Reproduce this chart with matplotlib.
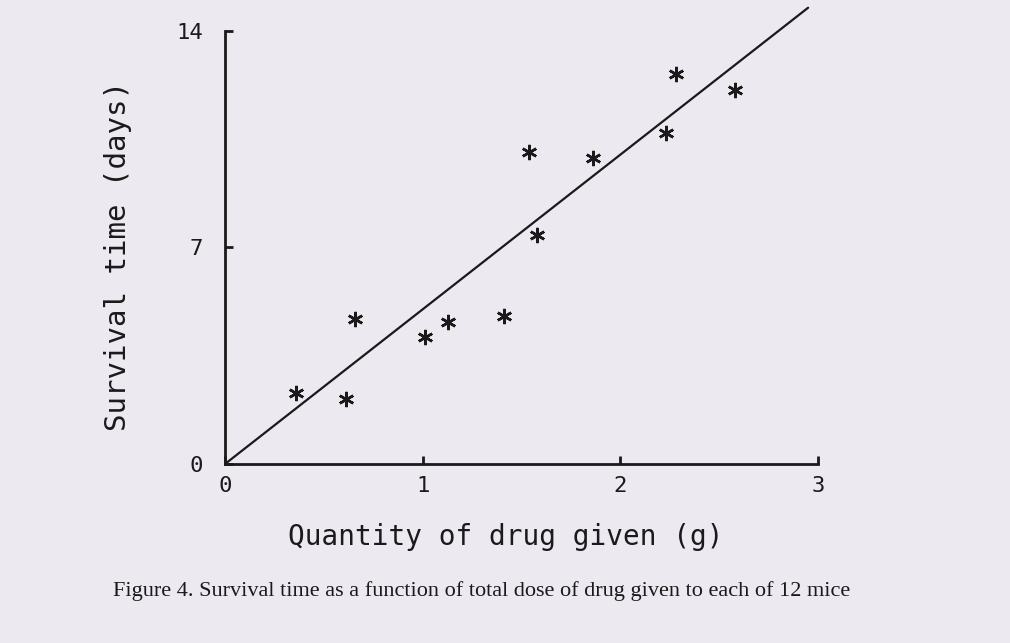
import matplotlib.pyplot as plt

# data
dose = [0.36, 0.61, 0.66, 1.01, 1.13, 1.41, 1.54, 1.58, 1.86, 2.23, 2.28, 2.58]
survival = [2.3, 2.1, 4.7, 4.1, 4.6, 4.8, 10.1, 7.4, 9.9, 10.7, 12.6, 12.1]

fit_x = [0, 2.95]
fit_y = [0, 14.75]

x_ticks = [0, 1, 2, 3]
y_ticks = [0, 7, 14]

paper = '#ece9f1'
ink = '#1a1a1a'
mono = 'DejaVu Sans Mono'

fig = plt.figure(figsize=(10.1, 6.43), dpi=100, facecolor=paper)
ax = fig.add_axes([225/1010, 1-464/643, 593/1010, 464/643])
ax.set_facecolor(paper)

ax.plot(fit_x, fit_y, color=ink, lw=1.6, solid_capstyle='round')
ax.plot(dose, survival, ls='none', marker=(6, 2, 0), ms=11, mew=1.8, color=ink)

ax.set_xlim(0, 3)
ax.set_ylim(0, 15.0)
for s in ['top', 'right']:
    ax.spines[s].set_visible(False)
ax.spines['left'].set_bounds(0, 14)
ax.spines['bottom'].set_bounds(0, 3)
for s in ['left', 'bottom']:
    ax.spines[s].set_linewidth(2)
    ax.spines[s].set_color(ink)

ax.set_xticks(x_ticks)
ax.set_yticks(y_ticks)
ax.tick_params(axis='both', direction='in', length=6, width=2, color=ink, labelcolor=ink, labelsize=16)
ax.tick_params(axis='y', pad=16)
ax.tick_params(axis='x', pad=9)
for lab in ax.get_xticklabels() + ax.get_yticklabels():
    lab.set_fontfamily(mono)

fig.text(506/1010, 1-537/643, 'Quantity of drug given (g)', family=mono, fontsize=20,
         color=ink, ha='center', va='center')
fig.text(118/1010, 1-256/643, 'Survival time (days)', family=mono, fontsize=21,
         color=ink, ha='center', va='center', rotation=90)
fig.text(482/1010, 1-591/643,
         'Figure 4. Survival time as a function of total dose of drug given to each of 12 mice',
         family='Liberation Serif', fontsize=16, color=ink, ha='center', va='center')

fig.savefig('out.png', dpi=100, facecolor=paper)
